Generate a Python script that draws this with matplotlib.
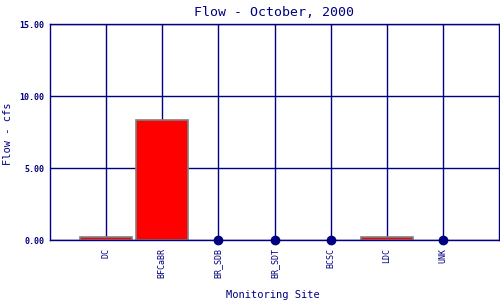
import matplotlib
matplotlib.use("Agg")
import matplotlib.pyplot as plt

sites = ["DC", "BFCaBR", "BR_SDB", "BR_SDT", "BCSC", "LDC", "UNK"]
flow = [0.2, 8.3, 0.0, 0.0, 0.0, 0.2, 0.0]
yticks = [0, 5, 10, 15]

navy = "#000080"
plt.rcParams["font.family"] = "DejaVu Sans Mono"

fig = plt.figure(figsize=(5, 3), dpi=100)
ax = fig.add_axes([0.1, 0.2, 0.898, 0.72])

x = list(range(1, len(sites) + 1))
for xi in x:
    ax.axvline(xi, color=navy, lw=1.0, zorder=1)
for yv in yticks:
    ax.axhline(yv, color=navy, lw=1.0, zorder=1)

bar_x = [xi for xi, v in zip(x, flow) if v > 0]
bar_v = [v for v in flow if v > 0]
ax.bar(bar_x, bar_v, width=0.93, color="red", edgecolor="#808080", lw=1.2, zorder=2)
dot_x = [xi for xi, v in zip(x, flow) if v == 0]
ax.plot(dot_x, [0] * len(dot_x), "o", color=navy, ms=6, zorder=3, clip_on=False)

ax.set_xlim(0, 8)
ax.set_ylim(0, 15)
ax.set_xticks(x)
ax.set_xticklabels(sites, rotation=90, fontsize=6, color=navy)
ax.set_yticks(yticks)
ax.set_yticklabels(["%.2f" % v for v in yticks], fontsize=6, color=navy, fontweight="bold")
ax.tick_params(axis="x", length=0, pad=6)
ax.tick_params(axis="y", length=0, pad=4)
for s in ax.spines.values():
    s.set_color(navy)
    s.set_linewidth(1.0)

ax.set_title("Flow - October, 2000", color=navy, fontsize=9.5, pad=6)
fig.text(0.016, 0.553, "Flow - cfs", color=navy, fontsize=7.5,
         rotation=90, ha="center", va="center")
fig.text(0.546, 0.017, "Monitoring Site", color=navy, fontsize=7.5,
         ha="center", va="center")

fig.savefig("out.png", dpi=100)
